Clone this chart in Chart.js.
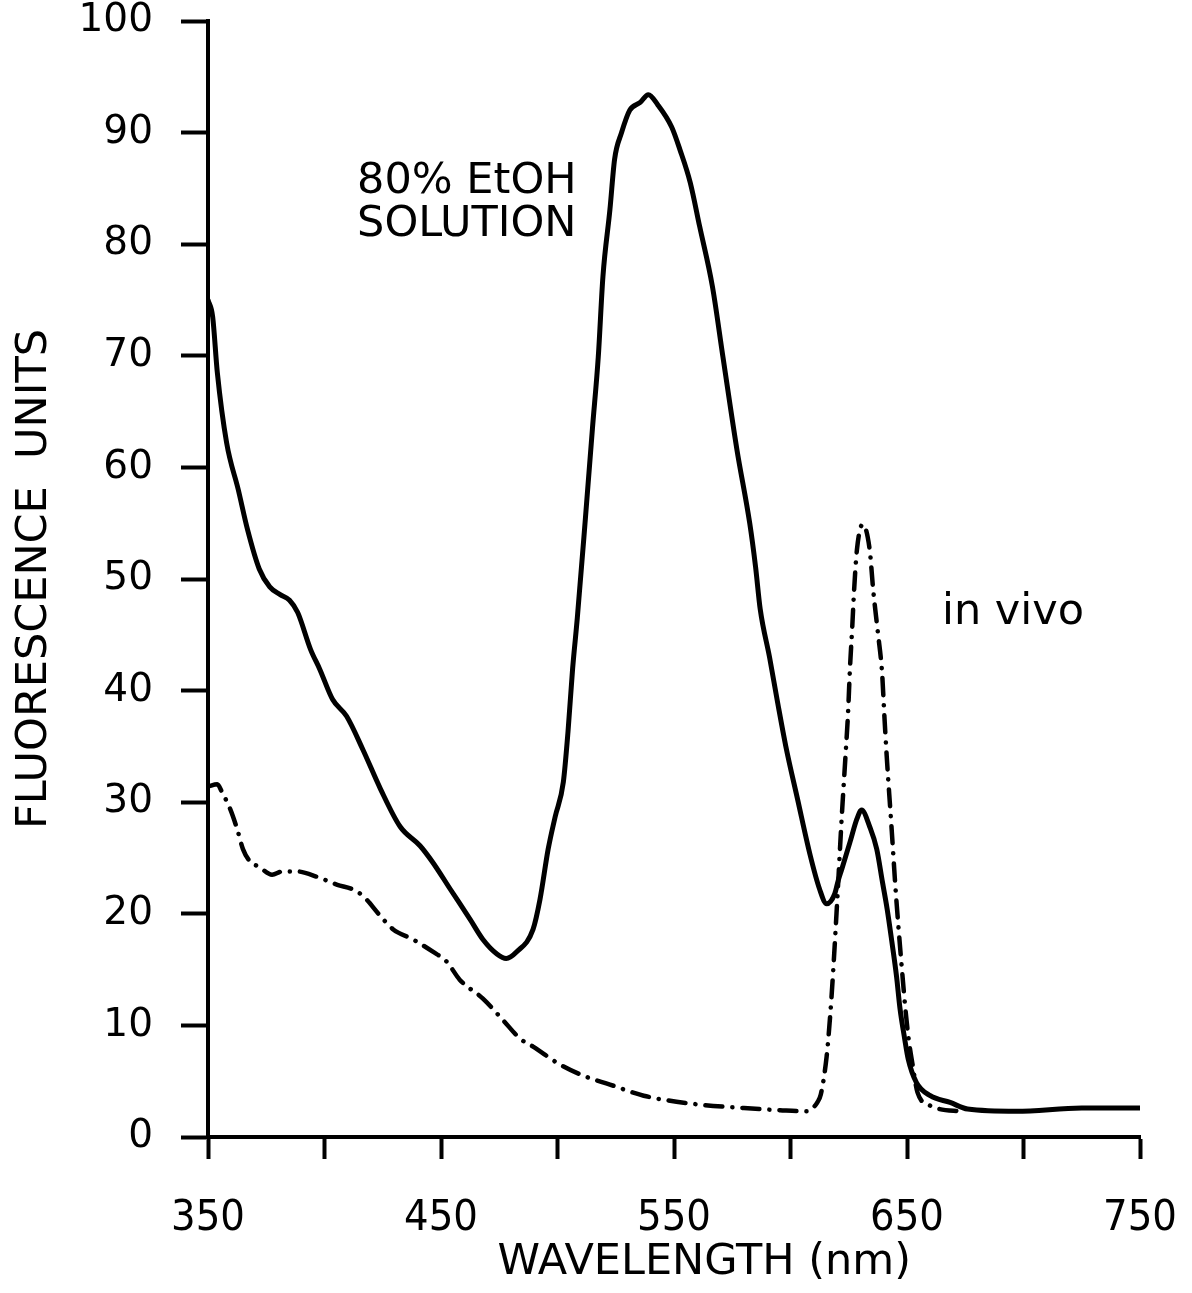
<!DOCTYPE html>
<html>
<head>
<meta charset="utf-8">
<script src="https://cdn.jsdelivr.net/npm/chart.js@4.4.1/dist/chart.umd.min.js"></script>
<style>
  html, body { margin: 0; padding: 0; background: #fff; }
  canvas { display: block; }
</style>
</head>
<body>
<canvas id="spectrum" width="1192" height="1293"></canvas>
<script>
// 80% ethanol extract (solid trace)
const ethanolNm = [350, 352, 354, 358, 363, 367, 372, 376.5, 381, 385, 388.5, 394, 398, 403.5, 409.5, 416.5, 424, 432.5, 441, 446.5, 454, 462.5, 468, 474, 478, 482.5, 489.5, 492.5, 496, 499, 502.5, 504.5, 506.5, 508.5, 512, 515, 517.5, 519.5, 522.5, 524.5, 527.5, 531, 535.5, 539, 543, 549, 552.5, 557, 561, 566.5, 571, 577, 582.5, 585, 587, 591, 594.5, 598, 603, 608.5, 612.5, 615.5, 619, 620.5, 622, 625.5, 628.5, 630.5, 634, 637, 639.5, 641.5, 643.5, 645.5, 647, 649, 650.5, 654, 660, 668.5, 676, 697, 725, 750];
const ethanolUnits = [75, 73.5, 68.5, 62.2, 58, 54.4, 50.9, 49.3, 48.6, 48.1, 47, 43.7, 41.9, 39.2, 37.7, 34.7, 31.2, 27.8, 26.1, 24.6, 22.2, 19.5, 17.7, 16.4, 16, 16.6, 18.6, 21.3, 25.8, 28.7, 31.8, 36.3, 42, 46.5, 55.5, 63.5, 69.9, 77.1, 83.1, 87.6, 90, 92, 92.7, 93.4, 92.5, 90.5, 88.5, 85.5, 81.6, 76.2, 69.9, 61.6, 55, 51.1, 47.3, 43, 38.9, 35, 30.3, 25.2, 22.2, 20.9, 21.8, 23, 24, 26.4, 28.5, 29.3, 27.8, 25.8, 22.8, 20.4, 17.5, 14.4, 11.5, 8.8, 7, 4.9, 3.7, 3.1, 2.5, 2.3, 2.6, 2.6];

// in vivo (dash-dot trace)
const inVivoNm = [350, 354, 356, 359.5, 362.5, 365, 368, 372, 377.5, 382, 388, 397, 405.5, 412, 416.5, 424, 429.5, 438, 446.5, 452.5, 458, 468, 476.5, 484, 489.5, 501, 511, 522.5, 537, 561, 580, 595.5, 607, 611.5, 613, 615.5, 617, 618.3, 620, 622, 623.5, 624.7, 625.5, 626.5, 627.3, 628.5, 631, 634, 635.5, 637.5, 639.3, 640.3, 641.3, 643.5, 645, 646.3, 648, 649.3, 650.7, 652.3, 654.5, 660, 664, 673];
const inVivoUnits = [31.4, 31.6, 30.9, 29.4, 27.6, 25.8, 24.7, 24.2, 23.5, 23.8, 23.8, 23.3, 22.6, 22.2, 21.6, 19.8, 18.6, 17.7, 16.6, 15.7, 14.1, 12.4, 10.5, 8.8, 8.1, 6.5, 5.5, 4.7, 3.7, 2.9, 2.6, 2.4, 2.3, 3.1, 3.8, 7.2, 10.8, 14.8, 21, 28.7, 33.8, 38, 41.9, 45.7, 49, 52.6, 54.9, 52.6, 49, 45.2, 41.6, 37.7, 34.1, 27.3, 22.5, 18.9, 14.6, 11.5, 8.8, 6.6, 4, 2.8, 2.5, 2.3];

const nmTicks = [350, 400, 450, 500, 550, 600, 650, 700, 750];
const labelledNm = [350, 450, 550, 650, 750];
const unitTicks = [0, 10, 20, 30, 40, 50, 60, 70, 80, 90, 100];

const notes = [
  { text: '80% EtOH', nm: 414, units: 84.6 },
  { text: 'SOLUTION', nm: 414, units: 80.75 },
  { text: 'in vivo', nm: 665, units: 46 }
];
const xTitle = 'WAVELENGTH (nm)';

const FONT = "'DejaVu Sans', 'Noto Sans', sans-serif";
const INK = '#000';

const toPoints = (xs, ys) => xs.map((x, i) => ({ x: x, y: ys[i] }));

// free text labels plus the wavelength title, which sits right of centre
const notesPlugin = {
  id: 'notes',
  afterDraw(chart) {
    const { ctx, scales, chartArea } = chart;
    ctx.save();
    ctx.fillStyle = INK;
    ctx.font = '43px ' + FONT;
    ctx.textAlign = 'left';
    ctx.textBaseline = 'alphabetic';
    notes.forEach(n => {
      ctx.fillText(n.text, scales.x.getPixelForValue(n.nm), scales.y.getPixelForValue(n.units));
    });
    ctx.textAlign = 'center';
    ctx.textBaseline = 'middle';
    ctx.fillText(xTitle, scales.x.getPixelForValue(563), chartArea.bottom + 126);
    ctx.restore();
  }
};

new Chart(document.getElementById('spectrum'), {
  type: 'line',
  data: {
    datasets: [
      {
        label: '80% EtOH solution',
        data: toPoints(ethanolNm, ethanolUnits),
        borderColor: INK,
        borderWidth: 5,
        pointRadius: 0,
        cubicInterpolationMode: 'monotone',
        borderJoinStyle: 'round',
        borderCapStyle: 'round'
      },
      {
        label: 'in vivo',
        data: toPoints(inVivoNm, inVivoUnits),
        borderColor: INK,
        borderWidth: 4.5,
        borderDash: [17, 10, 0.1, 10],
        borderCapStyle: 'round',
        pointRadius: 0,
        cubicInterpolationMode: 'monotone'
      }
    ]
  },
  options: {
    responsive: false,
    animation: false,
    layout: { padding: { top: 21, right: 52, left: 0, bottom: 0 } },
    plugins: { legend: { display: false }, tooltip: { enabled: false } },
    scales: {
      x: {
        type: 'linear',
        min: 350,
        max: 750,
        afterFit: s => { s.height = 156; s.paddingLeft = 0; s.paddingRight = 0; },
        afterBuildTicks: s => { s.ticks = nmTicks.map(v => ({ value: v })); },
        border: { display: true, color: INK, width: 4 },
        grid: { drawOnChartArea: false, drawTicks: true, tickLength: 22, tickWidth: 4, tickColor: INK },
        ticks: {
          color: INK,
          padding: 38,
          maxRotation: 0,
          autoSkip: false,
          font: { family: "'Liberation Sans Narrow', 'DejaVu Sans Condensed', sans-serif", size: 43, lineHeight: 1 },
          callback: v => (labelledNm.includes(v) ? String(v) : '')
        }
      },
      y: {
        min: 0,
        max: 100,
        afterFit: s => { s.width = 208; s.paddingTop = 0; s.paddingBottom = 0; },
        afterBuildTicks: s => { s.ticks = unitTicks.map(v => ({ value: v })); },
        border: { display: true, color: INK, width: 4 },
        grid: { drawOnChartArea: false, drawTicks: true, tickLength: 27, tickWidth: 4, tickColor: INK },
        ticks: {
          color: INK,
          padding: 28,
          font: { family: FONT, size: 39, lineHeight: 1 }
        },
        title: {
          display: true,
          text: 'FLUORESCENCE  UNITS',
          color: INK,
          font: { family: FONT, size: 43 },
          padding: { top: 9, bottom: 0 }
        }
      }
    }
  },
  plugins: [notesPlugin]
});
</script>
</body>
</html>
